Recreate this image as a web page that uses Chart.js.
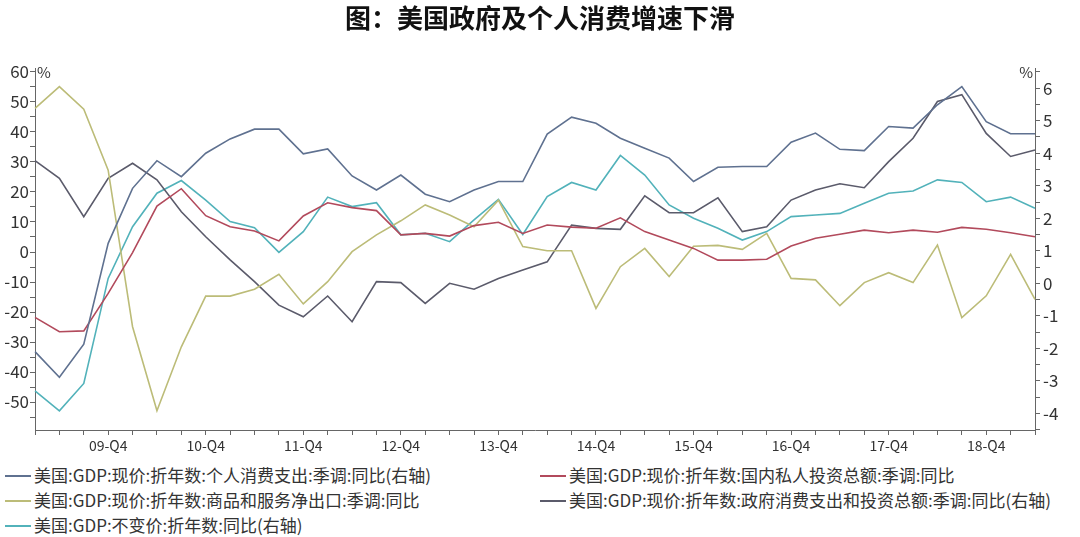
<!DOCTYPE html>
<html>
<head>
<meta charset="utf-8">
<script src="https://cdn.jsdelivr.net/npm/chart.js"></script>
<style>
  html, body { margin: 0; padding: 0; background: #fff; }
  #wrap { position: relative; width: 1080px; height: 537px; overflow: hidden; font-family: 'Noto Sans CJK SC', sans-serif; }
  #title { position: absolute; left: 0; top: 0; width: 1080px; text-align: center; font-size: 26px; font-weight: bold; line-height: 34px; color: #111; }
  #box { position: absolute; left: 0; top: 0; width: 1080px; height: 460px; }
  .leg { position: absolute; font-size: 17px; color: #333; white-space: nowrap; line-height: 20px; }
  .leg span.sw { display: inline-block; width: 26px; height: 2px; vertical-align: middle; margin-right: 3px; position: relative; top: -1px; }
</style>
</head>
<body>
<div id="wrap">
  <canvas id="box" width="1080" height="460"></canvas>
  <div id="title">图：美国政府及个人消费增速下滑</div>
  <div id="legend"></div>
</div>
<script>
// quarters 09-Q1 .. 19-Q2
const quarters = [];
for (let y = 9; y <= 19; y++) {
  for (let q = 1; q <= 4; q++) {
    if (y === 19 && q > 2) break;
    quarters.push(String(y).padStart(2, '0') + '-Q' + q);
  }
}

// series
const consumption = [-2.10, -2.89, -1.87, 1.23, 2.92, 3.77, 3.28, 4.00, 4.44, 4.74, 4.74, 3.98, 4.13, 3.30, 2.87, 3.33, 2.74, 2.51, 2.87, 3.13, 3.13, 4.59, 5.11, 4.92, 4.46, 4.15, 3.85, 3.13, 3.57, 3.59, 3.59, 4.34, 4.62, 4.12, 4.08, 4.82, 4.77, 5.49, 6.05, 4.97, 4.60, 4.60];
const investment = [-21.8, -26.6, -26.3, -13.8, -0.2, 15.3, 21.1, 12.1, 8.4, 7.0, 3.7, 12.0, 16.4, 14.8, 13.8, 5.7, 6.2, 5.3, 8.8, 9.9, 6.2, 9.0, 8.3, 7.9, 11.4, 6.8, 4.0, 1.2, -2.7, -2.7, -2.4, 2.0, 4.6, 5.9, 7.3, 6.4, 7.3, 6.6, 8.2, 7.6, 6.4, 5.1];
const netExports = [47.9, 55.1, 47.6, 27.3, -24.9, -52.9, -31.6, -14.7, -14.7, -12.4, -7.4, -17.3, -9.9, 0.1, 5.7, 10.4, 15.7, 12.3, 8.4, 17.3, 1.8, 0.4, 0.4, -18.8, -4.9, 1.2, -8.2, 1.9, 2.2, 0.9, 6.2, -8.8, -9.3, -17.9, -10.2, -6.9, -10.2, 2.3, -21.9, -14.6, -0.8, -15.8];
const government = [3.77, 3.23, 2.05, 3.23, 3.69, 3.18, 2.20, 1.43, 0.72, 0.05, -0.67, -1.03, -0.39, -1.18, 0.05, 0.02, -0.62, 0.00, -0.18, 0.15, 0.41, 0.66, 1.79, 1.69, 1.66, 2.69, 2.17, 2.17, 2.63, 1.59, 1.74, 2.56, 2.87, 3.06, 2.94, 3.74, 4.46, 5.59, 5.80, 4.61, 3.90, 4.10];
const realGdp = [-3.31, -3.92, -3.08, 0.15, 1.74, 2.77, 3.16, 2.56, 1.90, 1.71, 0.95, 1.59, 2.65, 2.36, 2.48, 1.49, 1.54, 1.28, 1.95, 2.58, 1.50, 2.67, 3.10, 2.87, 3.93, 3.33, 2.41, 2.00, 1.69, 1.33, 1.59, 2.05, 2.10, 2.15, 2.46, 2.77, 2.84, 3.18, 3.10, 2.51, 2.65, 2.31];

const leftTicks = [];
for (let v = -55; v <= 60; v += 5) leftTicks.push(v);
const rightTicks = [];
for (let k = -9; k <= 13; k++) rightTicks.push(k * 0.5);

const datasets = [
  { label: '美国:GDP:现价:折年数:个人消费支出:季调:同比(右轴)', data: consumption, yAxisID: 'yR', borderColor: '#5f7190' },
  { label: '美国:GDP:现价:折年数:国内私人投资总额:季调:同比', data: investment, yAxisID: 'yL', borderColor: '#b24a5c' },
  { label: '美国:GDP:现价:折年数:商品和服务净出口:季调:同比', data: netExports, yAxisID: 'yL', borderColor: '#bcbc78' },
  { label: '美国:GDP:现价:折年数:政府消费支出和投资总额:季调:同比(右轴)', data: government, yAxisID: 'yR', borderColor: '#5b5b6b' },
  { label: '美国:GDP:不变价:折年数:同比(右轴)', data: realGdp, yAxisID: 'yR', borderColor: '#52b2ba' }
];
datasets.forEach(d => {
  d.borderWidth = 1.6;
  d.pointRadius = 0;
  d.tension = 0;
  d.fill = false;
});

// "%" marks at the top of both axes
const percentMarks = {
  id: 'percentMarks',
  afterDraw(chart) {
    const ctx = chart.ctx;
    const a = chart.chartArea;
    ctx.save();
    ctx.fillStyle = '#333';
    ctx.font = '15px "Noto Sans CJK SC", sans-serif';
    ctx.textBaseline = 'middle';
    ctx.textAlign = 'left';
    ctx.fillText('%', a.left + 2, a.top + 4);
    ctx.textAlign = 'right';
    ctx.fillText('%', a.right - 2, a.top + 4);
    ctx.restore();
  }
};

const tickFont = { family: '"Noto Sans CJK SC", sans-serif', size: 17 };

new Chart(document.getElementById('box').getContext('2d'), {
  type: 'line',
  data: { labels: quarters, datasets: datasets },
  plugins: [percentMarks],
  options: {
    responsive: false,
    animation: false,
    layout: { padding: { top: 68, left: 0, right: 0, bottom: 0 } },
    plugins: { legend: { display: false }, tooltip: { enabled: false } },
    scales: {
      x: {
        offset: false,
        afterFit: s => { s.height = 30; },
        grid: { drawOnChartArea: false, drawTicks: true, tickLength: 5, color: '#666', offset: false },
        border: { color: '#666' },
        ticks: {
          autoSkip: false, maxRotation: 0, padding: 2, color: '#333',
          font: { family: '"Noto Sans CJK SC", sans-serif', size: 14 },
          callback: function (v) { const l = this.getLabelForValue(v); return l.endsWith('Q4') ? l : ''; }
        }
      },
      yL: {
        position: 'left',
        min: -59.33, max: 61.33,
        afterFit: s => { s.width = 35; },
        afterBuildTicks: s => { s.ticks = leftTicks.map(v => ({ value: v })); },
        grid: { drawOnChartArea: false, tickLength: 5, color: '#666' },
        border: { color: '#666' },
        ticks: { autoSkip: false, color: '#333', padding: 1, font: tickFont, callback: v => (v % 10 === 0 ? String(v) : '') }
      },
      yR: {
        position: 'right',
        min: -4.51, max: 6.62,
        afterFit: s => { s.width = 45; },
        afterBuildTicks: s => { s.ticks = rightTicks.map(v => ({ value: v })); },
        grid: { drawOnChartArea: false, tickLength: 5, color: '#666' },
        border: { color: '#666' },
        ticks: { autoSkip: false, color: '#333', padding: 3, font: tickFont, callback: v => (Number.isInteger(v) ? String(v) : '') }
      }
    }
  }
});

// legend: two columns below the chart
const legendPos = [[5, 465], [540, 465], [5, 490], [540, 490], [5, 515]];
const legendEl = document.getElementById('legend');
datasets.forEach((d, i) => {
  const el = document.createElement('div');
  el.className = 'leg';
  el.style.left = legendPos[i][0] + 'px';
  el.style.top = legendPos[i][1] + 'px';
  el.innerHTML = '<span class="sw" style="background:' + d.borderColor + '"></span>' + d.label;
  legendEl.appendChild(el);
});
</script>
</body>
</html>
